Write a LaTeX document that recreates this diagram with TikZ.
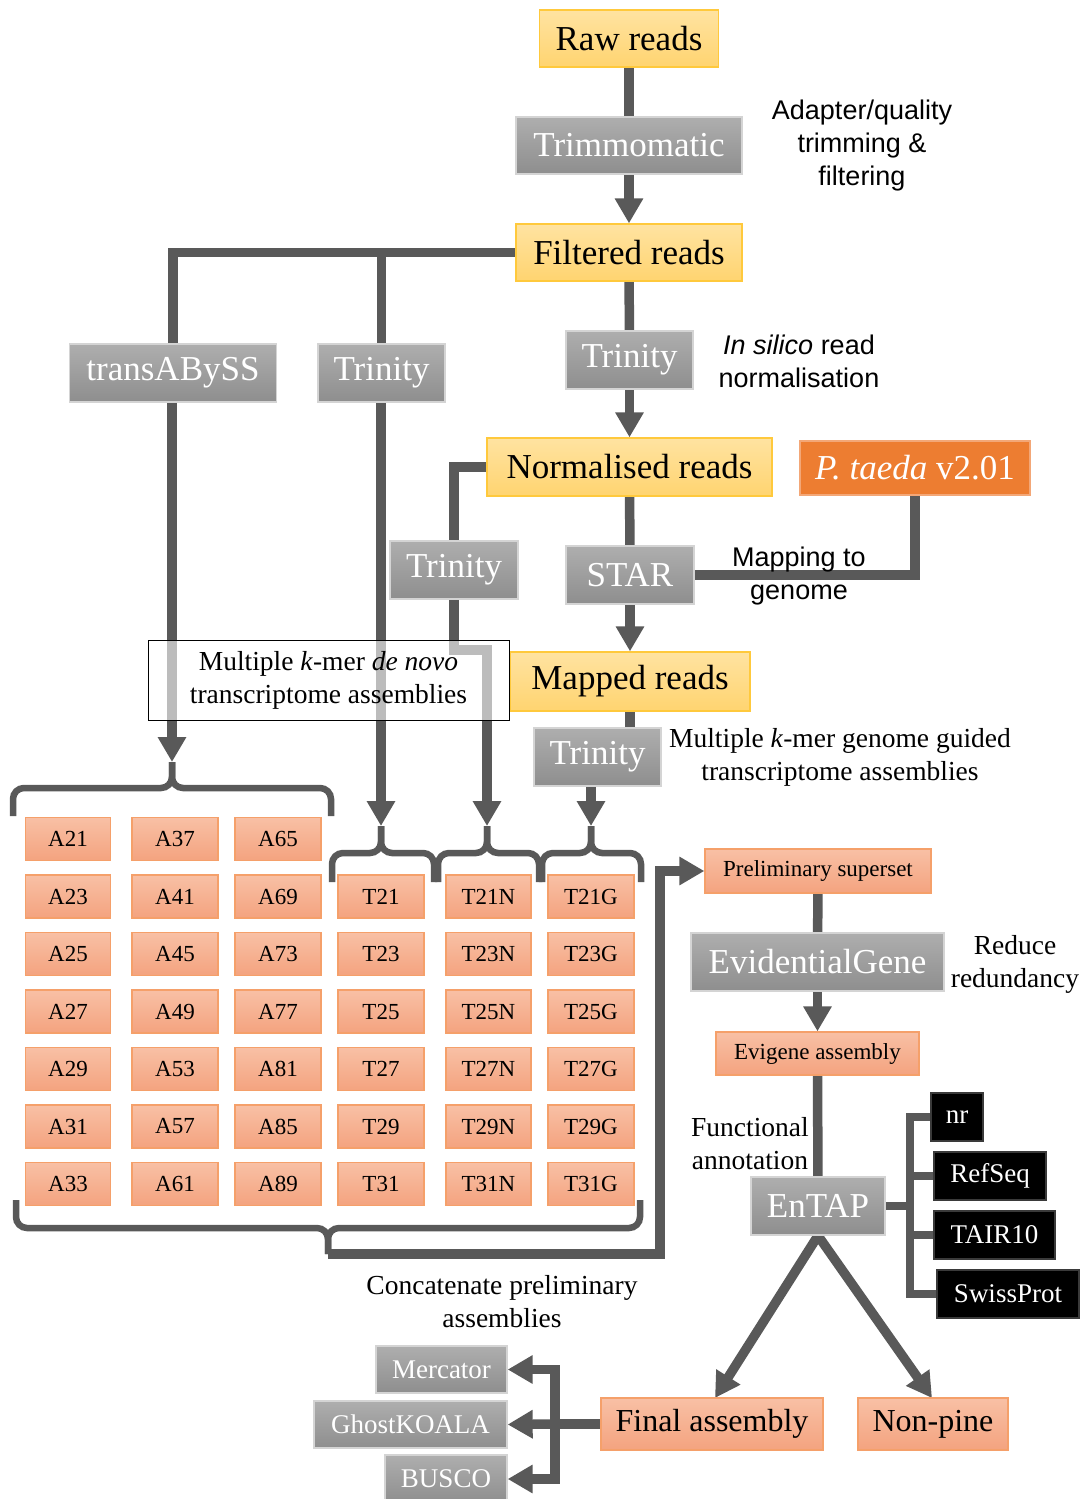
\documentclass[tikz,border=0pt]{standalone}
\usepackage{fontspec}
\setmainfont{Liberation Serif}
\newfontfamily\arialf{Liberation Sans}
\usetikzlibrary{arrows.meta,backgrounds}
\definecolor{ln}{HTML}{595959}
\definecolor{yT}{HTML}{FFE3A1}
\definecolor{yB}{HTML}{FFD470}
\definecolor{yD}{HTML}{FFC93C}
\definecolor{gT}{HTML}{AEAEAE}
\definecolor{gB}{HTML}{8E8E8E}
\definecolor{gD}{HTML}{D4D4D4}
\definecolor{sT}{HTML}{F8C0A5}
\definecolor{sB}{HTML}{F4A37F}
\definecolor{sD}{HTML}{F5A06A}
\definecolor{orF}{HTML}{ED7D31}
\definecolor{orD}{HTML}{F3A777}
\definecolor{kD}{HTML}{3A3A3A}
\newcommand\fsBig{\fontsize{35}{40}\selectfont}
\newcommand\fsFin{\fontsize{32}{38}\selectfont}
\newcommand\fsMid{\fontsize{27}{33}\selectfont}
\newcommand\fsLab{\fontsize{27.5}{33}\selectfont}
\newcommand\fsBox{\fontsize{23}{28}\selectfont}
\begin{document}
\begin{tikzpicture}[x=1pt,y=-1pt,
  conn/.style={draw=ln, line width=9.5pt},
  arr/.style={-{Triangle[width=27pt,length=25pt]}},
  brc/.style={draw=ln, line width=6.5pt, rounded corners=11pt},
  bx/.style={inner sep=0pt, line width=1.3pt, anchor=center},
  ybox/.style={bx, draw=yD, top color=yT, bottom color=yB, font=\fsBig},
  gbox/.style={bx, draw=gD, top color=gT, bottom color=gB, text=white},
  sbox/.style={bx, draw=sD, top color=sT, bottom color=sB, font=\fsBox},
  kbox/.style={bx, draw=kD, fill=black, text=white, font=\fsMid},
  lab/.style={align=center, inner sep=0pt},
]
\useasboundingbox (0,0) rectangle (1084,1499);

% main column
\node[ybox, minimum width=179, minimum height=57] (raw) at (629,38.5) {Raw reads};
\node[gbox, font=\fsBig, minimum width=226, minimum height=57] (trim) at (629,145.5) {Trimmomatic};
\node[ybox, minimum width=226, minimum height=57] (filt) at (629,252.5) {Filtered reads};
\node[gbox, font=\fsBig, minimum width=207, minimum height=58] (tab) at (173,373) {transABySS};
\node[gbox, font=\fsBig, minimum width=127, minimum height=58] (tr1) at (381.5,373) {Trinity};
\node[gbox, font=\fsBig, minimum width=127, minimum height=58] (tr2) at (629.5,360) {Trinity};
\node[ybox, minimum width=285, minimum height=58] (norm) at (629.5,467) {Normalised reads};
\node[bx, draw=orD, fill=orF, text=white, font=\fsBig, minimum width=230, minimum height=54] (pt) at (915,468) {\textit{P. taeda} v2.01};
\node[gbox, font=\fsBig, minimum width=128, minimum height=58] (tr3) at (454,570) {Trinity};
\node[gbox, font=\fsBig, minimum width=128, minimum height=58] (star) at (630,575) {STAR};
\node[ybox, minimum width=240, minimum height=59] (map) at (630,681.5) {Mapped reads};
\node[gbox, font=\fsBig, minimum width=127, minimum height=58] (tr4) at (597.5,757) {Trinity};

% labels
\node[lab, font=\arialf\fsMid] (l1) at (862,146) {Adapter/quality\\trimming \&\\filtering};
\node[lab, font=\arialf\fsMid] (l2) at (799,361) {\textit{In silico} read\\normalisation};
\node[lab, font=\arialf\fsMid] (l3) at (799,576) {Mapping to\\genome};
\node[lab, font=\fsLab] (l4) at (840,757) {Multiple \textit{k}-mer genome guided\\transcriptome assemblies};
\node[lab, font=\fsLab] (l5) at (502,1302) {Concatenate preliminary\\assemblies};
\node[lab, font=\fsLab] (l6) at (1015,964) {Reduce\\redundancy};
\node[lab, font=\fsLab] (l7) at (750,1144) {Functional\\annotation};

\node[bx, draw=black, line width=1pt, fill=white, fill opacity=0.6, text opacity=1, align=center,
      font=\fsLab, minimum width=361, minimum height=80] (dn) at (328.5,680)
      {Multiple \textit{k}-mer \textit{de novo}\\transcriptome assemblies};

% assembly grid
\foreach \n [count=\i from 0] in {21,23,25,27,29,31,33}
  \node[sbox, minimum width=85, minimum height=43] (A\n) at (68,{839+57.5*\i}) {A\n};
\foreach \n [count=\i from 0] in {37,41,45,49,53,57,61}
  \node[sbox, minimum width=86, minimum height=43] (A\n) at (175,{839+57.5*\i}) {A\n};
\foreach \n [count=\i from 0] in {65,69,73,77,81,85,89}
  \node[sbox, minimum width=86, minimum height=43] (A\n) at (278,{839+57.5*\i}) {A\n};
\foreach \n [count=\i from 1] in {21,23,25,27,29,31}{
  \node[sbox, minimum width=86, minimum height=43] (T\n) at (381,{839+57.5*\i}) {T\n};
  \node[sbox, minimum width=85, minimum height=43] (T\n-N) at (488.5,{839+57.5*\i}) {T\n N};
  \node[sbox, minimum width=86, minimum height=43] (T\n-G) at (591,{839+57.5*\i}) {T\n G};
}

% braces
\coordinate (tipA) at (172,762);
\coordinate (tipT) at (381,826);
\coordinate (tipN) at (487,826);
\coordinate (tipG) at (591,826);
\coordinate (tipB) at (328,1254);
\draw[brc] (13,816) -- (13,788) -- (172,788) -- (tipA);
\draw[brc] (331,816) -- (331,788) -- (172,788) -- (tipA);
\draw[brc] (332,882) -- (332,853) -- (381,853) -- (tipT);
\draw[brc] (434,882) -- (434,853) -- (381,853) -- (tipT);
\draw[brc] (438,882) -- (438,853) -- (487,853) -- (tipN);
\draw[brc] (539,882) -- (539,853) -- (487,853) -- (tipN);
\draw[brc] (542,882) -- (542,853) -- (591,853) -- (tipG);
\draw[brc] (641,882) -- (641,853) -- (591,853) -- (tipG);
\draw[brc] (16,1200) -- (16,1228) -- (328,1228) -- (tipB);
\draw[brc] (640,1200) -- (640,1228) -- (328,1228) -- (tipB);

% right part
\node[sbox, minimum width=226, minimum height=44] (pre) at (818,871) {Preliminary superset};
\node[gbox, font=\fsBig, minimum width=253, minimum height=58] (evid) at (817.5,962) {EvidentialGene};
\node[sbox, minimum width=203, minimum height=43] (evi) at (817.5,1053.5) {Evigene assembly};
\node[gbox, font=\fsBig, minimum width=134, minimum height=58] (entap) at (818,1206) {EnTAP};
\node[kbox, minimum width=52, minimum height=48] (nr) at (957,1117) {nr};
\node[kbox, minimum width=112, minimum height=48] (refseq) at (990,1176) {RefSeq};
\node[kbox, minimum width=121, minimum height=48] (tair) at (994.5,1235) {TAIR10};
\node[kbox, minimum width=142, minimum height=48] (swiss) at (1008,1294) {SwissProt};
\node[sbox, font=\fsFin, minimum width=222, minimum height=52] (final) at (712,1424) {Final assembly};
\node[sbox, font=\fsFin, minimum width=150, minimum height=52] (nonp) at (933,1424) {Non-pine};
\node[gbox, font=\fsMid, minimum width=131, minimum height=47] (merc) at (441.5,1369.5) {Mercator};
\node[gbox, font=\fsMid, minimum width=193, minimum height=47] (ghost) at (410.5,1424.5) {GhostKOALA};
\node[gbox, font=\fsMid, minimum width=122, minimum height=48] (busco) at (446,1479) {BUSCO};

\coordinate (k3) at (454,650);
\coordinate (jB) at (660,1254);
\coordinate (jE) at (910,1206);
\coordinate (jF) at (555,1424);
\coordinate (fTop) at (715,1398);
\coordinate (nTop) at (932,1398);

\begin{pgfonlayer}{background}
\draw[conn] (raw) -- (trim);
\draw[conn,arr] (trim) -- (filt);
\draw[conn] (filt.west) -| (tab.north);
\draw[conn] (tr1.north) -- (tr1.north |- filt.west);
\draw[conn] (filt) -- (tr2);
\draw[conn,arr] (tr2) -- (norm);
\draw[conn] (norm.west) -| (tr3.north);
\draw[conn] (norm) -- (star);
\draw[conn] (pt.south) |- (star.east);
\draw[conn,arr] (star) -- (map);
\draw[conn] (map.south) -- (map.south |- tr4.north);
\draw[conn,arr] (tab.south -| tipA) -- (tipA);
\draw[conn,arr] (tr1.south -| tipT) -- (tipT);
\draw[conn,arr] (tr3.south) -- (k3) -| (tipN);
\draw[conn,arr] (tr4.south -| tipG) -- (tipG);
\draw[conn,arr] (tipB) -- (jB) |- (pre.west);
\draw[conn] (pre) -- (evid);
\draw[conn,arr] (evid) -- (evi);
\draw[conn] (evi) -- (entap);
\draw[conn, line width=8pt] (entap.east) -- (jE);
\draw[conn, line width=8pt] (nr.west) -| (jE);
\draw[conn, line width=8pt] (swiss.west) -| (jE);
\draw[conn, line width=8pt] (refseq.west) -- (refseq.west -| jE);
\draw[conn, line width=8pt] (tair.west) -- (tair.west -| jE);
\draw[conn,arr] (entap.south) -- (fTop);
\draw[conn,arr] (entap.south) -- (nTop);
\draw[conn] (final.west) -- (jF);
\draw[conn,arr] (jF) |- (merc.east);
\draw[conn,arr] (jF) -- (ghost.east);
\draw[conn,arr] (jF) |- (busco.east);
\end{pgfonlayer}
\end{tikzpicture}
\end{document}
